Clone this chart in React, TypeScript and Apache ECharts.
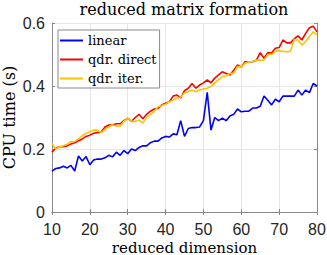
import React, { useEffect, useRef } from "react";
import * as echarts from "echarts";

const dims: number[] = [];
for (let d = 10; d <= 80; d++) dims.push(d);

const linear = [
  0.13, 0.138, 0.14, 0.145, 0.14, 0.148, 0.13, 0.178, 0.162, 0.176,
  0.15, 0.165, 0.168, 0.168, 0.172, 0.18, 0.175, 0.19, 0.18, 0.195,
  0.185, 0.2, 0.195, 0.205, 0.21, 0.21, 0.22, 0.225, 0.225, 0.235,
  0.24, 0.238, 0.248, 0.245, 0.29, 0.24, 0.265, 0.268, 0.268, 0.27,
  0.29, 0.38, 0.26, 0.3, 0.29, 0.298, 0.29, 0.305, 0.31, 0.327,
  0.318, 0.32, 0.32, 0.33, 0.33, 0.336, 0.368, 0.355, 0.34, 0.358,
  0.35, 0.368, 0.368, 0.368, 0.368, 0.387, 0.371, 0.387, 0.379, 0.408,
  0.4,
];

const qdrDirect = [
  0.19, 0.203, 0.207, 0.207, 0.21, 0.216, 0.22, 0.226, 0.232, 0.24,
  0.244, 0.25, 0.252, 0.254, 0.27, 0.276, 0.276, 0.28, 0.28, 0.29,
  0.297, 0.288, 0.3, 0.31, 0.296, 0.31, 0.32, 0.327, 0.329, 0.34,
  0.345, 0.35, 0.368, 0.371, 0.362, 0.385, 0.393, 0.408, 0.393, 0.403,
  0.41, 0.419, 0.41, 0.425, 0.435, 0.445, 0.44, 0.435, 0.45, 0.467,
  0.459, 0.477, 0.477, 0.477, 0.482, 0.506, 0.488, 0.506, 0.505, 0.52,
  0.522, 0.546, 0.537, 0.537, 0.55, 0.559, 0.546, 0.567, 0.585, 0.59,
  0.572,
];

const qdrIter = [
  0.218, 0.2, 0.207, 0.21, 0.215, 0.223, 0.224, 0.232, 0.242, 0.25,
  0.255, 0.26, 0.26, 0.252, 0.262, 0.27, 0.276, 0.273, 0.272, 0.288,
  0.297, 0.289, 0.287, 0.292, 0.282, 0.3, 0.31, 0.318, 0.334, 0.338,
  0.342, 0.35, 0.355, 0.361, 0.365, 0.378, 0.382, 0.387, 0.382, 0.387,
  0.39, 0.393, 0.398, 0.41, 0.42, 0.43, 0.432, 0.44, 0.44, 0.462,
  0.46, 0.472, 0.477, 0.478, 0.482, 0.482, 0.482, 0.5, 0.5, 0.51,
  0.512, 0.51, 0.509, 0.51, 0.548, 0.545, 0.53, 0.541, 0.557, 0.572,
  0.562,
];

const seriesNames = ["linear", "qdr. direct", "qdr. iter."];
const seriesColors = ["#0000ff", "#ff0000", "#ffc400"];

const SERIF = "'DejaVu Serif', 'Liberation Serif', serif";
const SANS = "'Liberation Sans', Arial, sans-serif";

export default function App() {
  const ref = useRef<HTMLDivElement>(null);
  useEffect(() => {
    if (!ref.current) return;
    const chart = echarts.init(ref.current, undefined, { renderer: "svg" });
    const datasets = [linear, qdrDirect, qdrIter];
    const axisLineStyle = { color: "#8a8a8a", width: 1 };
    chart.setOption({
      animation: false,
      backgroundColor: "#ffffff",
      title: {
        text: "reduced matrix formation",
        left: 184,
        textAlign: "center",
        top: 0,
        padding: [1, 0, 0, 0],
        textStyle: { fontFamily: SERIF, fontSize: 16, fontWeight: "normal", color: "#000" },
      },
      legend: {
        orient: "vertical",
        left: 58,
        top: 30,
        padding: [1, 3, 0, 2],
        itemGap: 0,
        itemWidth: 23,
        itemHeight: 2,
        icon: "rect",
        backgroundColor: "#ffffff",
        borderColor: "#8a8a8a",
        borderWidth: 1,
        borderRadius: 0,
        data: seriesNames,
        textStyle: { fontFamily: SERIF, fontSize: 13, lineHeight: 19, color: "#000" },
      },
      grid: { left: 52, right: 10, top: 23, bottom: 43, show: false, outerBoundsMode: "none", containLabel: false },
      xAxis: [
        {
          type: "value",
          min: 10,
          max: 80,
          interval: 10,
          name: "reduced dimension",
          nameLocation: "middle",
          nameMoveOverlap: false,
          nameGap: 28,
          nameTextStyle: { fontFamily: SERIF, fontSize: 15, lineHeight: 15, color: "#000" },
          axisLine: { show: true, lineStyle: axisLineStyle },
          axisTick: { show: true, inside: true, length: 3, lineStyle: axisLineStyle },
          axisLabel: { fontFamily: SANS, fontSize: 16, color: "#262626", margin: 9 },
          splitLine: { show: true, lineStyle: { color: "#e6e6e6", width: 1 } },
        },
        {
          type: "value",
          position: "top",
          min: 10,
          max: 80,
          interval: 10,
          axisLine: { show: true, lineStyle: axisLineStyle },
          axisTick: { show: true, inside: true, length: 3, lineStyle: axisLineStyle },
          axisLabel: { show: false },
          splitLine: { show: false },
        },
      ],
      yAxis: [
        {
          type: "value",
          min: 0,
          max: 0.6,
          interval: 0.2,
          name: "CPU time (s)",
          nameLocation: "middle",
          nameMoveOverlap: false,
          nameGap: 35,
          nameRotate: 90,
          nameTextStyle: { fontFamily: SERIF, fontSize: 16, color: "#000" },
          axisLine: { show: true, lineStyle: axisLineStyle },
          axisTick: { show: true, inside: true, length: 3, lineStyle: axisLineStyle },
          axisLabel: { fontFamily: SANS, fontSize: 16, color: "#262626", margin: 7 },
          splitLine: { show: true, lineStyle: { color: "#e6e6e6", width: 1 } },
        },
        {
          type: "value",
          position: "right",
          min: 0,
          max: 0.6,
          interval: 0.2,
          axisLine: { show: true, lineStyle: axisLineStyle },
          axisTick: { show: true, inside: true, length: 3, lineStyle: axisLineStyle },
          axisLabel: { show: false },
          splitLine: { show: false },
        },
      ],
      series: datasets.map((vals, i) => ({
        name: seriesNames[i],
        type: "line",
        xAxisIndex: 0,
        yAxisIndex: 0,
        data: dims.map((d, j) => [d, vals[j]]),
        showSymbol: false,
        symbol: "none",
        lineStyle: { color: seriesColors[i], width: 1.6 },
        itemStyle: { color: seriesColors[i] },
        z: 2 + i,
      })),
    });
    return () => chart.dispose();
  }, []);
  return <div ref={ref} style={{ width: 327, height: 255, position: "absolute", left: 0, top: 0 }} />;
}
